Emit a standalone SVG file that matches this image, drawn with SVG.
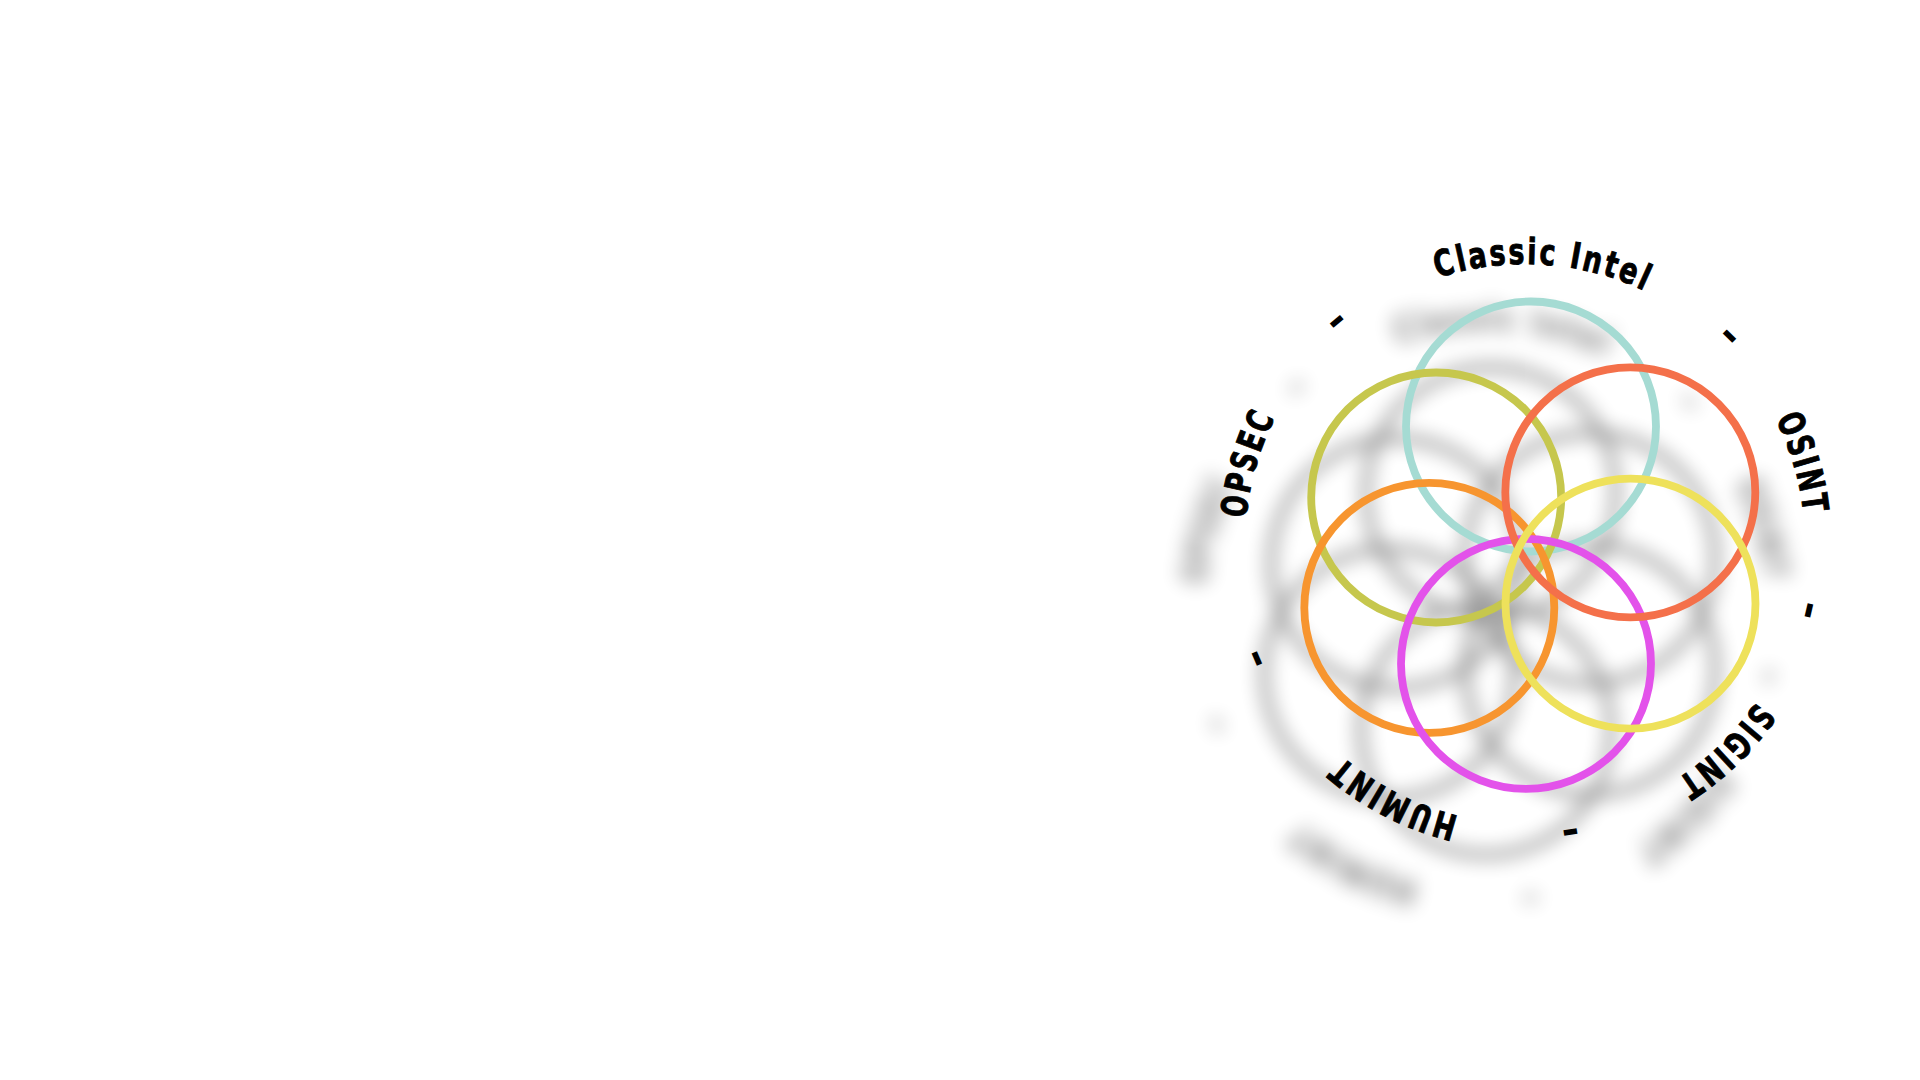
<svg xmlns="http://www.w3.org/2000/svg" xmlns:xlink="http://www.w3.org/1999/xlink" width="1920" height="1080" viewBox="0 0 1920 1080">
<style>
.ring{fill:none;stroke-width:7.8}
.lbl{font-family:"DejaVu Sans Condensed","DejaVu Sans","Liberation Sans",sans-serif;font-weight:bold;font-size:36px;letter-spacing:3px;fill:#000;stroke:#000;stroke-width:0.9}
.sep{font-family:"DejaVu Sans Condensed","DejaVu Sans","Liberation Sans",sans-serif;font-weight:bold;font-size:40px;fill:#000}
</style>
<defs>
<path id="ring-path" d="M1805,544 A280,280 0 1 1 1245,544 A280,280 0 1 1 1805,544"/>
<filter id="shadow" x="-30%" y="-30%" width="160%" height="160%">
<feGaussianBlur in="SourceAlpha" stdDeviation="9.5"/>
<feComponentTransfer><feFuncA type="linear" slope="0.45"/></feComponentTransfer>
</filter>
</defs>
<rect width="1920" height="1080" fill="#ffffff"/>
<use href="#art" xlink:href="#art" transform="translate(-40,66)" filter="url(#shadow)"/>
<g id="art">
<g id="rings">
<g id="node-teal"><circle class="ring" cx="1531" cy="426.5" r="125" stroke="#A5DBD3"/></g>
<g id="node-olive"><circle class="ring" cx="1436.2" cy="497.5" r="125" stroke="#C6C74D"/></g>
<g id="node-orange"><circle class="ring" cx="1429.3" cy="607.8" r="125" stroke="#F7952F"/></g>
<g id="node-magenta"><circle class="ring" cx="1526" cy="663.8" r="125" stroke="#E352EA"/></g>
<g id="node-red"><circle class="ring" cx="1630.3" cy="492.3" r="125" stroke="#F4704A"/></g>
<g id="node-yellow"><circle class="ring" cx="1630.5" cy="603.7" r="125" stroke="#EEE15B"/></g>
</g>
<g id="labels">
<g id="label-classic"><text class="lbl" text-anchor="middle"><textPath href="#ring-path" xlink:href="#ring-path" startOffset="1337.1" textLength="214" lengthAdjust="spacingAndGlyphs">Classic Intel</textPath></text></g>
<g id="label-osint"><text class="lbl" text-anchor="middle"><textPath href="#ring-path" xlink:href="#ring-path" startOffset="1679.2" textLength="101" lengthAdjust="spacingAndGlyphs">OSINT</textPath></text></g>
<g id="label-sigint"><text class="lbl" text-anchor="middle"><textPath href="#ring-path" xlink:href="#ring-path" startOffset="224.8" textLength="114" lengthAdjust="spacingAndGlyphs">SIGINT</textPath></text></g>
<g id="label-humint"><text class="lbl" text-anchor="middle"><textPath href="#ring-path" xlink:href="#ring-path" startOffset="573.5" textLength="134" lengthAdjust="spacingAndGlyphs">HUMINT</textPath></text></g>
<g id="label-opsec"><text class="lbl" text-anchor="middle"><textPath href="#ring-path" xlink:href="#ring-path" startOffset="958.5" textLength="107" lengthAdjust="spacingAndGlyphs">OPSEC</textPath></text></g>
</g>
<g id="separators">
<text class="sep" text-anchor="middle"><textPath href="#ring-path" xlink:href="#ring-path" startOffset="1122.5" textLength="18" lengthAdjust="spacingAndGlyphs">-</textPath></text>
<text class="sep" text-anchor="middle"><textPath href="#ring-path" xlink:href="#ring-path" startOffset="1536.4" textLength="18" lengthAdjust="spacingAndGlyphs">-</textPath></text>
<text class="sep" text-anchor="middle"><textPath href="#ring-path" xlink:href="#ring-path" startOffset="64.5" textLength="18" lengthAdjust="spacingAndGlyphs">-</textPath></text>
<text class="sep" text-anchor="middle"><textPath href="#ring-path" xlink:href="#ring-path" startOffset="395.8" textLength="18" lengthAdjust="spacingAndGlyphs">-</textPath></text>
<text class="sep" text-anchor="middle"><textPath href="#ring-path" xlink:href="#ring-path" startOffset="766.2" textLength="18" lengthAdjust="spacingAndGlyphs">-</textPath></text>
</g>
</g>
</svg>
